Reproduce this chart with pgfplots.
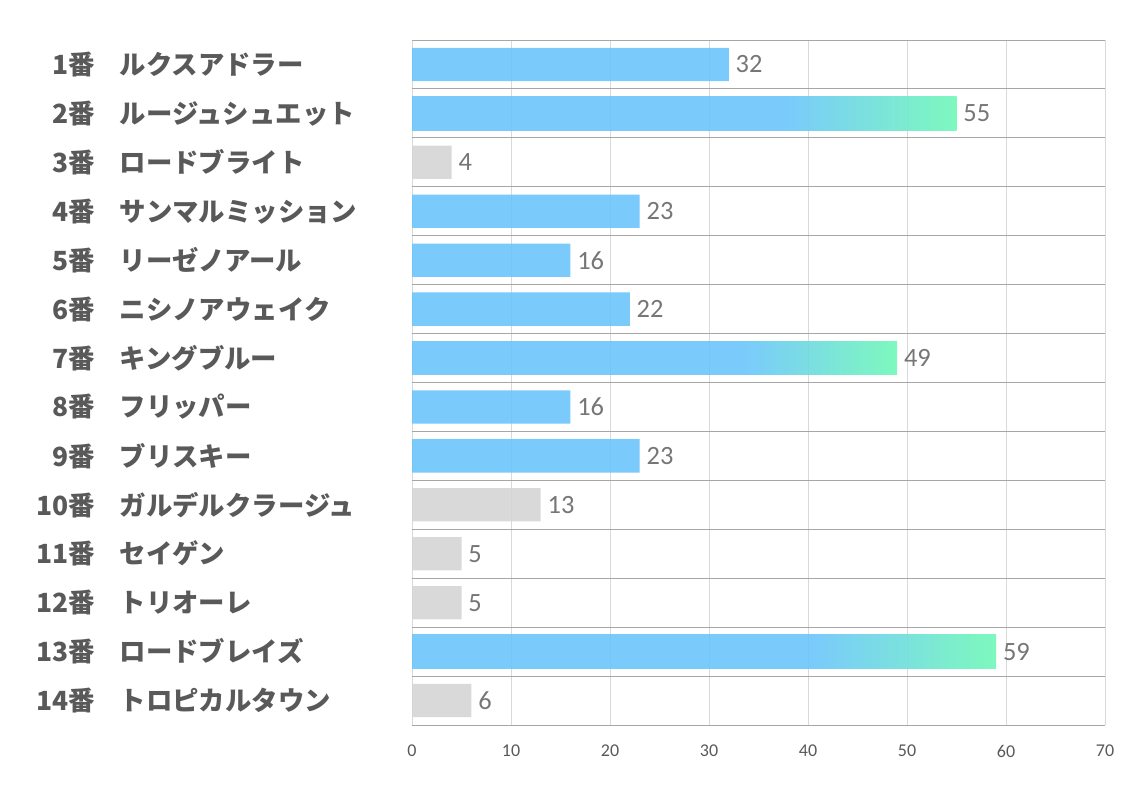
\documentclass[border=0pt]{standalone}
\usepackage{fontspec}
\setmainfont{Carlito}
\newfontfamily\jp{Noto Sans CJK JP}
\usepackage{pgfplots}
\pgfplotsset{compat=1.18}
\definecolor{bblue}{RGB}{107,196,252}
\definecolor{bgreen}{RGB}{111,248,183}
\definecolor{bgray}{RGB}{213,213,213}
\definecolor{gridlight}{RGB}{217,217,217}
\definecolor{griddark}{RGB}{166,166,166}
\definecolor{labgray}{RGB}{89,89,89}
\definecolor{valgray}{RGB}{118,118,118}
\pgfdeclarehorizontalshading{bgshade}{100bp}{color(0bp)=(bblue); color(59bp)=(bblue); color(75bp)=(bgreen); color(100bp)=(bgreen)}
\newcommand\lab[2]{\makebox[56.25pt][r]{#1番}\hspace{18.75pt}\makebox[195pt][l]{#2}}
\begin{document}
\begin{tikzpicture}
\useasboundingbox (0,0) rectangle (850.5pt,594.75pt);
\begin{axis}[
  at={(309pt,51pt)}, anchor=south west,
  scale only axis, width=519.75pt, height=513.75pt,
  xmin=0, xmax=70, ymin=0.5, ymax=14.5, y dir=reverse,
  xtick={0,10,...,70},
  ytick={1,...,14},
  minor ytick={0.5,1.5,...,14.5},
  yticklabels={
    {\lab{1}{ルクスアドラー}},
    {\lab{2}{ルージュシュエット}},
    {\lab{3}{ロードブライト}},
    {\lab{4}{サンマルミッション}},
    {\lab{5}{リーゼノアール}},
    {\lab{6}{ニシノアウェイク}},
    {\lab{7}{キングブルー}},
    {\lab{8}{フリッパー}},
    {\lab{9}{ブリスキー}},
    {\lab{10}{ガルデルクラージュ}},
    {\lab{11}{セイゲン}},
    {\lab{12}{トリオーレ}},
    {\lab{13}{ロードブレイズ}},
    {\lab{14}{トロピカルタウン}}},
  axis line style={draw=none},
  tick style={draw=none},
  major tick length=0pt, minor tick length=0pt,
  xmajorgrids, yminorgrids,
  major grid style={draw=gridlight, line width=0.75pt},
  minor grid style={draw=griddark, line width=0.75pt},
  /pgf/number format/assume math mode=true,
  xticklabel style={font=\fontsize{13.5}{15}\selectfont, color=labgray, inner sep=0pt, yshift=-15pt},
  yticklabel style={font=\jp\bfseries\fontsize{19.8}{22}\selectfont, color=labgray, inner sep=0pt, anchor=east, xshift=-24pt},
  xbar, bar width=25pt, bar shift=0pt,
  nodes near coords,
  every node near coord/.append style={font=\fontsize{19.8}{22}\selectfont, color=valgray, anchor=west, inner sep=0pt, xshift=5pt, fill opacity=1, text opacity=1},
]
\addplot[draw=none, fill=bblue, fill opacity=0.9] coordinates {(32,1) (23,4) (16,5) (22,6) (16,8) (23,9)};
\addplot[draw=none, shade, shading=bgshade, fill opacity=0.9] coordinates {(55,2)};
\addplot[draw=none, shade, shading=bgshade, fill opacity=0.9] coordinates {(49,7)};
\addplot[draw=none, shade, shading=bgshade, fill opacity=0.9] coordinates {(59,13)};
\addplot[draw=none, fill=bgray, fill opacity=0.9] coordinates {(4,3) (13,10) (5,11) (5,12) (6,14)};
\end{axis}
\end{tikzpicture}
\end{document}
